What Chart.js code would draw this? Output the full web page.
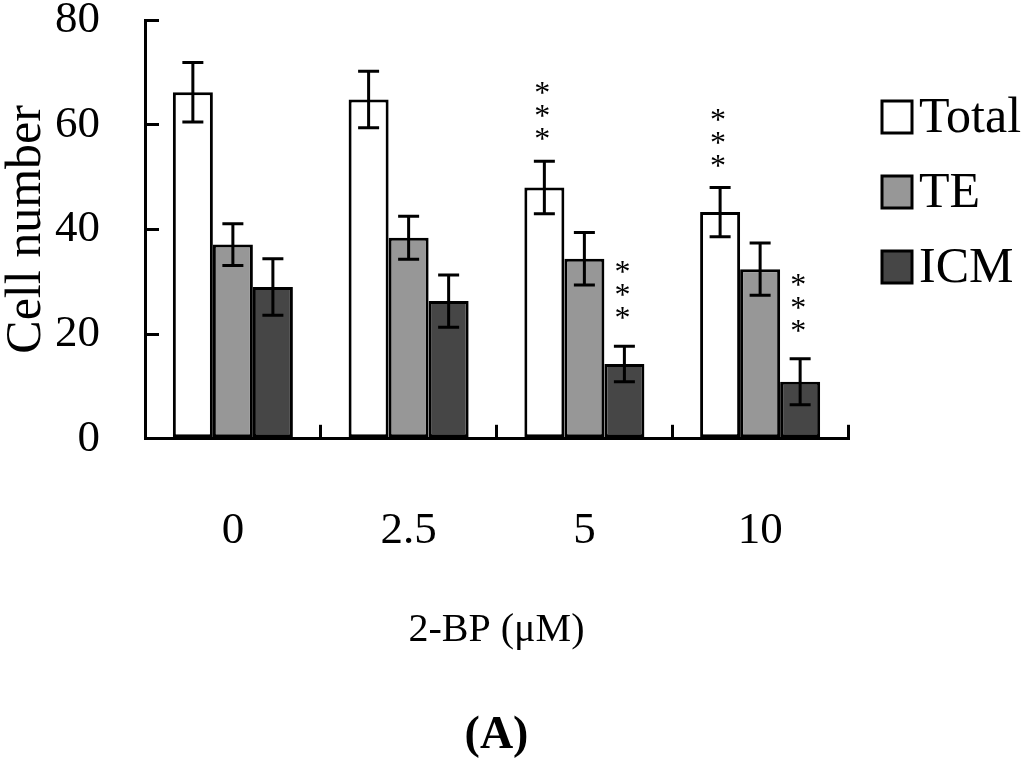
<!DOCTYPE html>
<html>
<head>
<meta charset="utf-8">
<script src="https://cdn.jsdelivr.net/npm/chart.js@4/dist/chart.umd.min.js"></script>
<style>
  html, body { margin: 0; padding: 0; background: #fff; }
  #wrap { width: 1024px; height: 764px; }
</style>
</head>
<body>
<div id="wrap"><canvas id="grafico" width="1024" height="764"></canvas></div>
<script>
// datos
const categories = ["0", "2.5", "5", "10"];
const seriesNames = ["Total", "TE", "ICM"];
const totalMean = [66.2, 64.8, 48.0, 43.3];
const totalErr  = [5.7, 5.4, 5.0, 4.7];
const teMean    = [37.1, 38.4, 34.4, 32.4];
const teErr     = [4.0, 4.1, 5.0, 5.0];
const icmMean   = [29.0, 26.3, 14.3, 10.9];
const icmErr    = [5.4, 5.0, 3.4, 4.4];
const totalSig  = ["", "", "***", "***"];
const teSig     = ["", "", "", ""];
const icmSig    = ["", "", "***", "***"];
const yTicks    = [0, 20, 40, 60, 80];

const SERIF = "'Liberation Serif', 'Times New Roman', serif";

// barras de error y asteriscos
const errorBars = {
  id: "errorBars",
  afterDatasetsDraw(chart) {
    const ctx = chart.ctx;
    const y = chart.scales.y;
    chart.data.datasets.forEach((ds, i) => {
      const meta = chart.getDatasetMeta(i);
      meta.data.forEach((bar, j) => {
        const m = ds.data[j], e = ds.errors[j];
        const yt = y.getPixelForValue(m + e);
        const yb = y.getPixelForValue(m - e);
        ctx.save();
        ctx.strokeStyle = "#000";
        ctx.lineWidth = 3;
        ctx.beginPath();
        ctx.moveTo(bar.x, yt); ctx.lineTo(bar.x, yb);
        ctx.moveTo(bar.x - 10.5, yt); ctx.lineTo(bar.x + 10.5, yt);
        ctx.moveTo(bar.x - 10.5, yb); ctx.lineTo(bar.x + 10.5, yb);
        ctx.stroke();
        const sig = ds.sig[j];
        if (sig) {
          ctx.fillStyle = "#000";
          ctx.font = "32px " + SERIF;
          ctx.textAlign = "center";
          ctx.textBaseline = "alphabetic";
          for (let k = 0; k < sig.length; k++) {
            const cy = yt - ds.starGap - k * 23;
            ctx.fillText("*", bar.x - 2, cy + 17);
          }
        }
        ctx.restore();
      });
    });
  }
};

// leyenda a la derecha
const sideLegend = {
  id: "sideLegend",
  afterLayout(chart) {
    // centra "(A)" bajo el area del grafico
    const t = chart.titleBlock;
    if (t) { t.left = chart.chartArea.left; t.right = chart.chartArea.right; }
  },
  afterDraw(chart) {
    const ctx = chart.ctx;
    const area = chart.chartArea;
    const x0 = area.right + 34;
    ctx.save();
    chart.data.datasets.forEach((ds, i) => {
      const cy = area.top + 97 + i * 75;
      ctx.fillStyle = ds.backgroundColor;
      ctx.fillRect(x0, cy - 16, 30, 32);
      ctx.strokeStyle = "#000";
      ctx.lineWidth = 3;
      ctx.strokeRect(x0, cy - 16, 30, 32);
      ctx.fillStyle = "#000";
      ctx.font = "50px " + SERIF;
      ctx.textAlign = "left";
      ctx.textBaseline = "middle";
      ctx.fillText(ds.label, x0 + 37, cy + 2);
    });
    ctx.restore();
  }
};

const ctx = document.getElementById("grafico").getContext("2d");
new Chart(ctx, {
  type: "bar",
  data: {
    labels: categories,
    datasets: [
      { label: seriesNames[0], data: totalMean, errors: totalErr, sig: totalSig, starGap: 29,
        backgroundColor: "#ffffff", borderColor: "#000", borderWidth: 3, borderSkipped: false },
      { label: seriesNames[1], data: teMean, errors: teErr, sig: teSig, starGap: 29,
        backgroundColor: "#979797", borderColor: "#000", borderWidth: 3, borderSkipped: false },
      { label: seriesNames[2], data: icmMean, errors: icmErr, sig: icmSig, starGap: 35,
        backgroundColor: "#464646", borderColor: "#000", borderWidth: 3, borderSkipped: false }
    ]
  },
  options: {
    responsive: false,
    animation: false,
    devicePixelRatio: 1,
    layout: { padding: { top: 20, right: 176, left: 0, bottom: 0 } },
    datasets: { bar: { barPercentage: 1, categoryPercentage: 0.683 } },
    plugins: {
      legend: { display: false },
      tooltip: { enabled: false },
      title: {
        display: true,
        position: "bottom",
        text: "(A)",
        color: "#000",
        font: { family: SERIF, size: 46, weight: "bold", lineHeight: 1.2 },
        padding: { top: 0, bottom: 0 }
      }
    },
    scales: {
      x: {
        border: { color: "#000", width: 3 },
        grid: { drawOnChartArea: false, offset: true, color: "#000", lineWidth: 3, tickLength: -14 },
        ticks: { color: "#000", font: { family: SERIF, size: 45, lineHeight: 1.2 }, padding: 79 },
        title: {
          display: true, text: "2-BP (μM)", color: "#000",
          font: { family: SERIF, size: 40, lineHeight: 1.2 },
          padding: { top: 43, bottom: 54 }
        },
        afterFit(s) { s.height = 270; s.paddingLeft = 0; s.paddingRight = 0; }
      },
      y: {
        min: 0, max: 80,
        afterBuildTicks(s) { s.ticks = yTicks.map(v => ({ value: v })); },
        border: { color: "#000", width: 3 },
        grid: { drawOnChartArea: false, color: "#000", lineWidth: 3, tickLength: -14 },
        ticks: { color: "#000", font: { family: SERIF, size: 45, lineHeight: 1.2 }, padding: 59 },
        title: {
          display: true, text: "Cell number", color: "#000",
          font: { family: SERIF, size: 50, lineHeight: 1 },
          padding: 2
        },
        afterFit(s) { s.width = 145; s.paddingTop = 0; s.paddingBottom = 0; }
      }
    }
  },
  plugins: [errorBars, sideLegend]
});
</script>
</body>
</html>
